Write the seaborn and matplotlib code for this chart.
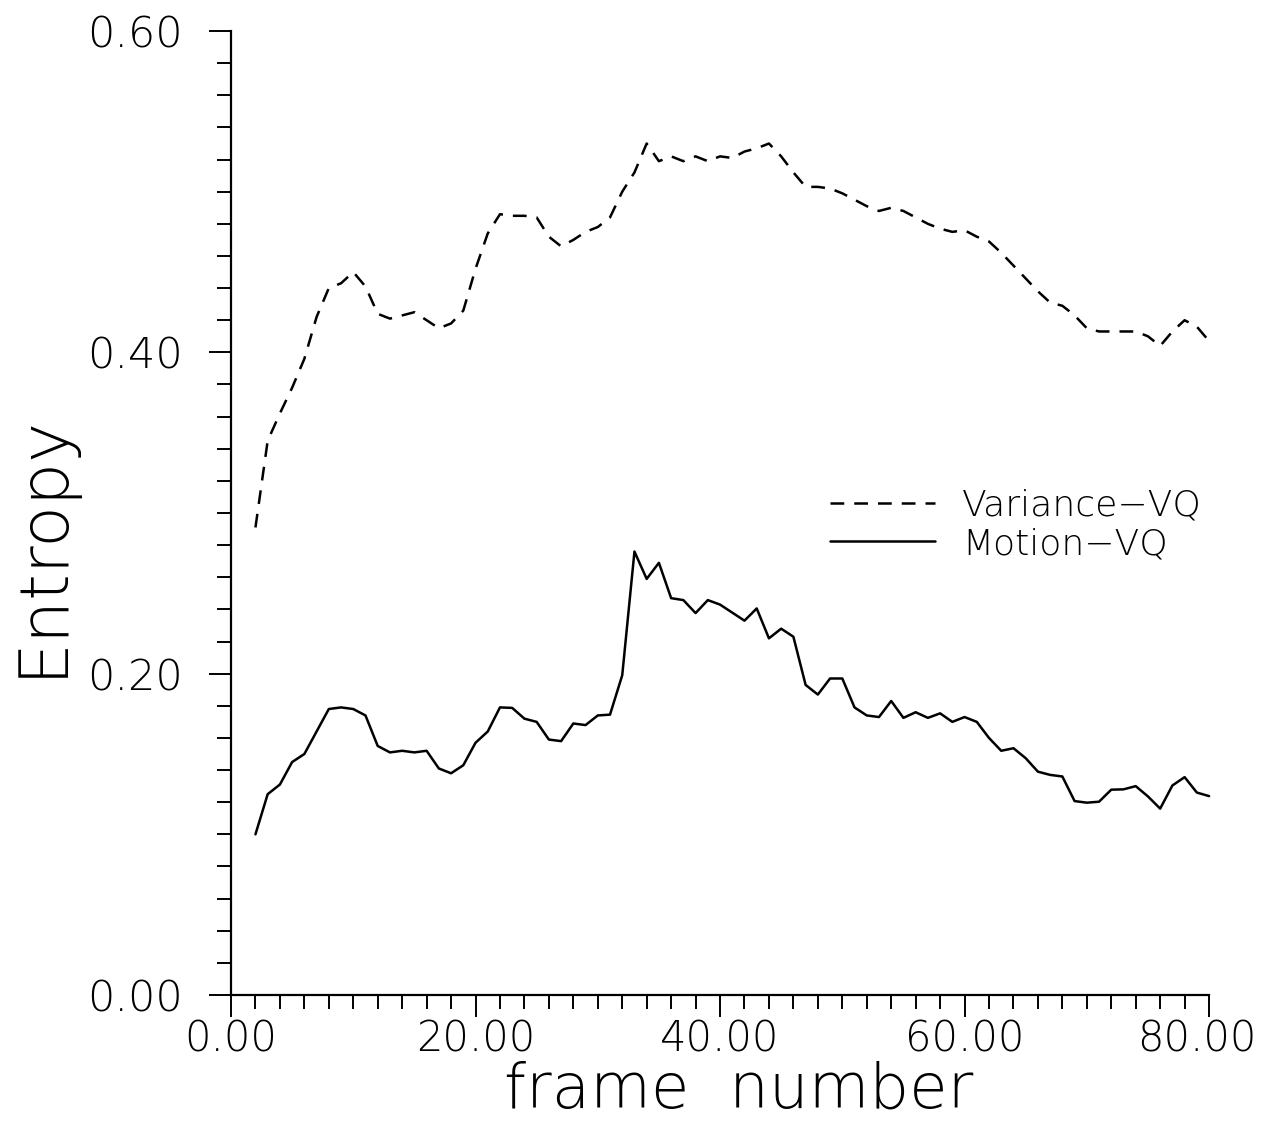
import matplotlib
matplotlib.use("Agg")
import matplotlib.pyplot as plt
import seaborn as sns
import pandas as pd
from matplotlib.ticker import MultipleLocator, FormatStrFormatter, NullFormatter
from matplotlib.lines import Line2D

frames = [2, 3, 4, 5, 6, 7, 8, 9, 10, 11, 12, 13, 14, 15, 16, 17, 18, 19, 20,
          21, 22, 23, 24, 25, 26, 27, 28, 29, 30, 31, 32, 33, 34, 35, 36, 37, 38,
          39, 40, 41, 42, 43, 44, 45, 46, 47, 48, 49, 50, 51, 52, 53, 54, 55, 56,
          57, 58, 59, 60, 61, 62, 63, 64, 65, 66, 67, 68, 69, 70, 71, 72, 73, 74,
          75, 76, 77, 78, 79, 80]

variance_vq = [0.291, 0.345, 0.362, 0.378, 0.396, 0.422, 0.440, 0.443, 0.450, 0.441,
               0.424, 0.421, 0.423, 0.425, 0.420, 0.415, 0.418, 0.426, 0.452, 0.474,
               0.486, 0.485, 0.485, 0.484, 0.472, 0.466, 0.470, 0.475, 0.478, 0.484,
               0.500, 0.512, 0.530, 0.519, 0.522, 0.519, 0.522, 0.519, 0.522, 0.521,
               0.525, 0.527, 0.530, 0.522, 0.512, 0.503, 0.503, 0.502, 0.499, 0.495,
               0.491, 0.488, 0.490, 0.488, 0.484, 0.480, 0.477, 0.475, 0.476, 0.472,
               0.469, 0.462, 0.454, 0.446, 0.438, 0.431, 0.429, 0.423, 0.415, 0.413,
               0.413, 0.413, 0.413, 0.410, 0.404, 0.413, 0.420, 0.416, 0.407]

motion_vq = [0.100, 0.125, 0.131, 0.145, 0.150, 0.164, 0.178, 0.179, 0.178, 0.174,
             0.155, 0.151, 0.152, 0.151, 0.152, 0.141, 0.138, 0.143, 0.157, 0.164,
             0.179, 0.1787, 0.172, 0.170, 0.159, 0.158, 0.169, 0.168, 0.174, 0.1745,
             0.199, 0.276, 0.259, 0.269, 0.247, 0.2458, 0.2377, 0.2458, 0.243, 0.238,
             0.233, 0.2406, 0.222, 0.228, 0.223, 0.193, 0.187, 0.197, 0.197, 0.179,
             0.174, 0.173, 0.183, 0.1725, 0.176, 0.1725, 0.1753, 0.170, 0.173, 0.170,
             0.160, 0.152, 0.1536, 0.1474, 0.139, 0.137, 0.136, 0.1207, 0.1197, 0.1203,
             0.1278, 0.128, 0.130, 0.1236, 0.116, 0.1304, 0.1356, 0.126, 0.1238]

x_ticks = [0, 20, 40, 60, 80]
x_tick_labels = ["0.00", "20.00", "40.00", "60.00", "80.00"]

series_names = ["Variance\u2212VQ", "Motion\u2212VQ"]
x_label = "frame  number"
y_label = "Entropy"

sns.set_theme(style="ticks")
plt.rcParams["font.family"] = ["DejaVu Sans"]
plt.rcParams["text.color"] = "black"

df = pd.DataFrame({
    "frame": frames * 2,
    "entropy": variance_vq + motion_vq,
    "method": [series_names[0]] * len(frames) + [series_names[1]] * len(frames),
})

fig = plt.figure(figsize=(12.63, 11.29), dpi=100)
ax = fig.add_axes([0.1829, 0.1187, 0.7744, 0.8538])

DASH = (5.5, 4)
sns.lineplot(data=df, x="frame", y="entropy", style="method",
             dashes={series_names[0]: DASH, series_names[1]: ""},
             color="black", linewidth=1.8, ax=ax, legend=False, clip_on=False)

ax.set_xlim(0, 80)
ax.set_ylim(0, 0.6)
ax.set_xticks(x_ticks)
ax.xaxis.set_minor_locator(MultipleLocator(2))
ax.xaxis.set_major_formatter(NullFormatter())
ax.yaxis.set_major_locator(MultipleLocator(0.2))
ax.yaxis.set_minor_locator(MultipleLocator(0.02))
ax.yaxis.set_major_formatter(FormatStrFormatter("%.2f"))

for s in ["top", "right"]:
    ax.spines[s].set_visible(False)
for s in ["left", "bottom"]:
    ax.spines[s].set_linewidth(1.6)
    ax.spines[s].set_color("black")

ax.tick_params(axis="both", which="major", direction="out", length=16, width=1.4,
               color="black")
ax.tick_params(axis="both", which="minor", direction="out", length=10, width=1.4,
               color="black")
ax.tick_params(axis="y", which="major", pad=19)
for lab in ax.get_yticklabels():
    lab.set_fontsize(31)
    lab.set_fontweight("light")
    lab.set_color("black")

# x tick labels drawn at the tick positions (last one nudged to stay inside)
for i, (val, txt) in enumerate(zip(x_ticks, x_tick_labels)):
    dx = -9 if i == len(x_ticks) - 1 else 0
    ax.annotate(txt, xy=(val, 0), xycoords=("data", "axes fraction"),
                xytext=(dx, -17), textcoords="offset points",
                ha="center", va="top", fontsize=30, fontweight="light",
                color="black", annotation_clip=False)

ax.set_xlabel("")
ax.set_ylabel("")
fig.text(0.585, 0.019, x_label, ha="center", va="baseline", fontsize=45,
         fontweight="light", color="black")
fig.text(0.033, 0.517, y_label, ha="center", va="center", rotation=90,
         fontsize=49, fontweight="light", color="black")

handles = [Line2D([], [], color="black", linewidth=1.8, dashes=DASH),
           Line2D([], [], color="black", linewidth=1.8)]
leg = ax.legend(handles, series_names, loc="center left",
                bbox_to_anchor=(0.6125, 0.4876), frameon=False,
                fontsize=26, handlelength=2.9, handletextpad=0.75,
                labelspacing=0.12, borderaxespad=0, borderpad=0)
for t in leg.get_texts():
    t.set_fontweight("light")
    t.set_color("black")

fig.savefig("out.png", dpi=100, facecolor="white")
